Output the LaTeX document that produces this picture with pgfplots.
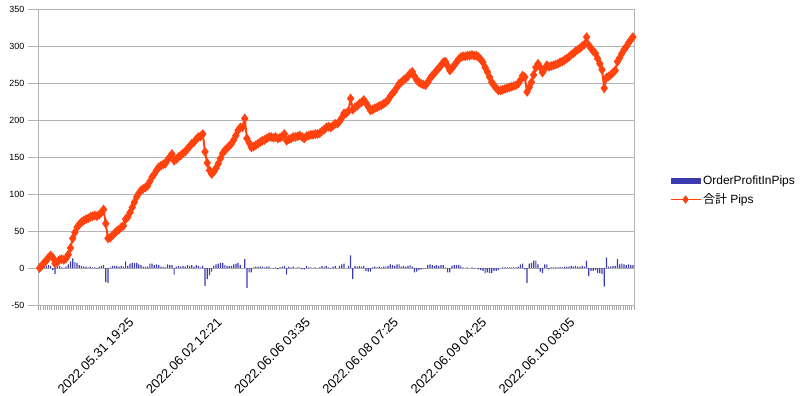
\documentclass[border=0pt]{standalone}
\usepackage{fontspec}
\setmainfont{Liberation Sans}
\newfontfamily\cjk{Noto Sans CJK JP}
\usepackage{pgfplots}
\usepackage{pgfplotstable}
\pgfplotsset{compat=1.18}
\definecolor{barblue}{HTML}{3C3CB0}
\definecolor{lineorange}{HTML}{FF420E}
\definecolor{gridgray}{HTML}{B3B3B3}
\definecolor{tickgray}{HTML}{A6A6A6}
\pgfplotsset{
  barleg/.style={legend image code/.code={\fill[barblue] (0bp,-3bp) rectangle (30bp,3bp);}},
  lineleg/.style={legend image code/.code={\draw[##1, line width=1.2bp, mark repeat=2, mark phase=2] plot coordinates {(0bp,0bp) (15bp,0bp) (30bp,0bp)};}}
}

\pgfplotstableread[row sep=\\]{
bar sum\\
0 0\\ 3 3\\ 4 7\\ 3 10\\ 4 14\\ 3 17\\ -3 14\\ -8 6\\ 2 8\\ 3 11\\
1 12\\ -1 11\\ 2 13\\ 5 18\\ 9 27\\ 13 40\\ 8 48\\ 7 55\\ 4 59\\ 3 62\\
2 64\\ 2 66\\ 1 67\\ 2 69\\ 1 70\\ 1 71\\ -1 70\\ 2 72\\ 3 75\\ 4 79\\
-19 60\\ -20 40\\ 1 41\\ 3 44\\ 3 47\\ 3 50\\ 2 52\\ 3 55\\ 2 57\\ 9 66\\
3 69\\ 6 75\\ 7 82\\ 7 89\\ 7 96\\ 5 101\\ 4 105\\ 2 107\\ 2 109\\ 2 111\\
6 117\\ 6 123\\ 4 127\\ 5 132\\ 4 136\\ 2 138\\ 2 140\\ 1 141\\ 5 146\\ 4 150\\
4 154\\ -9 145\\ 2 147\\ 3 150\\ 2 152\\ 3 155\\ 2 157\\ 4 161\\ 3 164\\ 4 168\\
2 170\\ 4 174\\ 3 177\\ 1 178\\ 3 181\\ -24 157\\ -15 142\\ -10 132\\ -5 127\\ 3 130\\
5 135\\ 6 141\\ 7 148\\ 7 155\\ 4 159\\ 3 162\\ 3 165\\ 3 168\\ 5 173\\ 6 179\\
7 186\\ 4 190\\ 0 190\\ 12 202\\ -27 175\\ -6 169\\ -6 163\\ 1 164\\ 2 166\\ 2 168\\
2 170\\ 2 172\\ 1 173\\ 2 175\\ 2 177\\ 0 177\\ -1 176\\ 1 177\\ -2 175\\ 1 176\\
2 178\\ 3 181\\ -9 172\\ 2 174\\ 1 175\\ 2 177\\ 0 177\\ 1 178\\ 1 179\\ -2 177\\
-2 175\\ 3 178\\ 1 179\\ 1 180\\ 0 180\\ 1 181\\ 0 181\\ 1 182\\ 3 185\\ 2 187\\
3 190\\ 1 191\\ -1 190\\ 2 192\\ 3 195\\ 0 195\\ 3 198\\ 5 203\\ 6 209\\ 0 209\\
3 212\\ 17 229\\ -15 214\\ 3 217\\ 2 219\\ 3 222\\ 2 224\\ 3 227\\ -4 223\\ -5 218\\
-5 213\\ 1 214\\ 2 216\\ 1 217\\ 2 219\\ 1 220\\ 2 222\\ 2 224\\ 3 227\\ 5 232\\
4 236\\ 3 239\\ 5 244\\ 5 249\\ 2 251\\ 3 254\\ 2 256\\ 3 259\\ 4 263\\ 2 265\\
-6 259\\ -5 254\\ -3 251\\ -2 249\\ -1 248\\ -1 247\\ 4 251\\ 5 256\\ 4 260\\ 3 263\\
4 267\\ 3 270\\ 4 274\\ 4 278\\ 1 279\\ -6 273\\ -6 267\\ 3 270\\ 4 274\\ 4 278\\
4 282\\ 3 285\\ 1 286\\ 0 286\\ 1 287\\ 0 287\\ 1 288\\ -1 287\\ 0 287\\ -2 285\\
-3 282\\ -4 278\\ -7 271\\ -6 265\\ -7 258\\ -7 251\\ -4 247\\ -4 243\\ -3 240\\ 0 240\\
1 241\\ 1 242\\ 1 243\\ 1 244\\ 1 245\\ 1 246\\ 1 247\\ 2 249\\ 5 254\\ 6 260\\
-2 258\\ -20 238\\ 6 244\\ 7 251\\ 10 261\\ 10 271\\ 5 276\\ -5 271\\ -7 264\\ 5 269\\
5 274\\ -2 272\\ 1 273\\ 1 274\\ 1 275\\ 1 276\\ 2 278\\ 1 279\\ 2 281\\ 2 283\\
2 285\\ 3 288\\ 2 290\\ 3 293\\ 2 295\\ 2 297\\ 3 300\\ 2 302\\ 10 312\\ -11 301\\
-4 297\\ -4 293\\ -3 290\\ -7 283\\ -7 276\\ -8 268\\ -25 243\\ 14 257\\ 2 259\\ 2 261\\
3 264\\ 3 267\\ 12 279\\ 5 284\\ 6 290\\ 5 295\\ 4 299\\ 5 304\\ 4 308\\ 4 312\\
}\data

\begin{document}
\begin{tikzpicture}
% ticks along the zero line
\begin{axis}[name=zt, at={(0,0)}, anchor=south west, scale only axis,
  width=595.5bp, height=296bp,
  xmin=-0.5, xmax=269.5, ymin=-50, ymax=350,
  axis x line*=middle, axis y line=none,
  x axis line style={draw=none},
  xtick=\empty, xticklabels={},
  minor xtick={-0.5,0.5,...,269.5},
  tick align=outside, minor tick length=5bp,
  every minor x tick/.append style={draw=tickgray, line width=0.6bp}]
\end{axis}
\begin{axis}[name=main, at={(0,0)}, anchor=south west, scale only axis,
  width=595.5bp, height=296bp,
  xmin=-0.5, xmax=269.5, ymin=-50, ymax=350, clip=false,
  axis line style={draw=gridgray, line width=0.8bp},
  ytick={-50,0,50,100,150,200,250,300,350},
  yticklabels={-50,0,50,100,150,200,250,300,350},
  ymajorgrids, grid style={draw=gridgray, line width=0.8bp},
  ytick pos=left, xtick pos=bottom, tick align=outside,
  major tick length=10bp, minor tick length=5bp,
  every major tick/.append style={draw=gridgray, line width=0.8bp},
  xtick={41,81,121,161,201,241},
  xticklabels={2022.05.31 19:25,2022.06.02 12:21,2022.06.06 03:35,2022.06.08 07:25,2022.06.09 04:25,2022.06.10 08:05},
  every major x tick/.append style={draw=none},
  minor xtick={-0.5,0.5,...,269.5},
  every minor x tick/.append style={draw=tickgray, line width=0.6bp},
  yticklabel style={font=\fontsize{9}{10}\selectfont, inner sep=1bp, xshift=-3bp},
  xticklabel style={font=\fontsize{13}{15}\selectfont, xshift=-2bp, yshift=0bp, rotate=45, anchor=north east, inner sep=1bp},
  legend style={at={(1.055,0.387)}, anchor=west, draw=none, fill=none,
    font=\fontsize{12}{14}\selectfont, row sep=4bp,
    /tikz/every even column/.append style={column sep=2bp}},
  legend cell align=left]
\addplot[ybar, bar width=0.55, fill=barblue, draw=none, barleg]
  table[x expr=\coordindex, y=bar]{\data};
\addplot[lineorange, line width=2bp, mark=diamond*, mark size=3.3bp,
  mark options={fill=lineorange, draw=lineorange}, lineleg]
  table[x expr=\coordindex, y=sum]{\data};
\legend{OrderProfitInPips,{\cjk 合計} Pips}
\end{axis}
\pgfresetboundingbox
\path (main.south west) ++(-38.5bp,-91bp) rectangle ++(800bp,396bp);
\end{tikzpicture}
\end{document}
